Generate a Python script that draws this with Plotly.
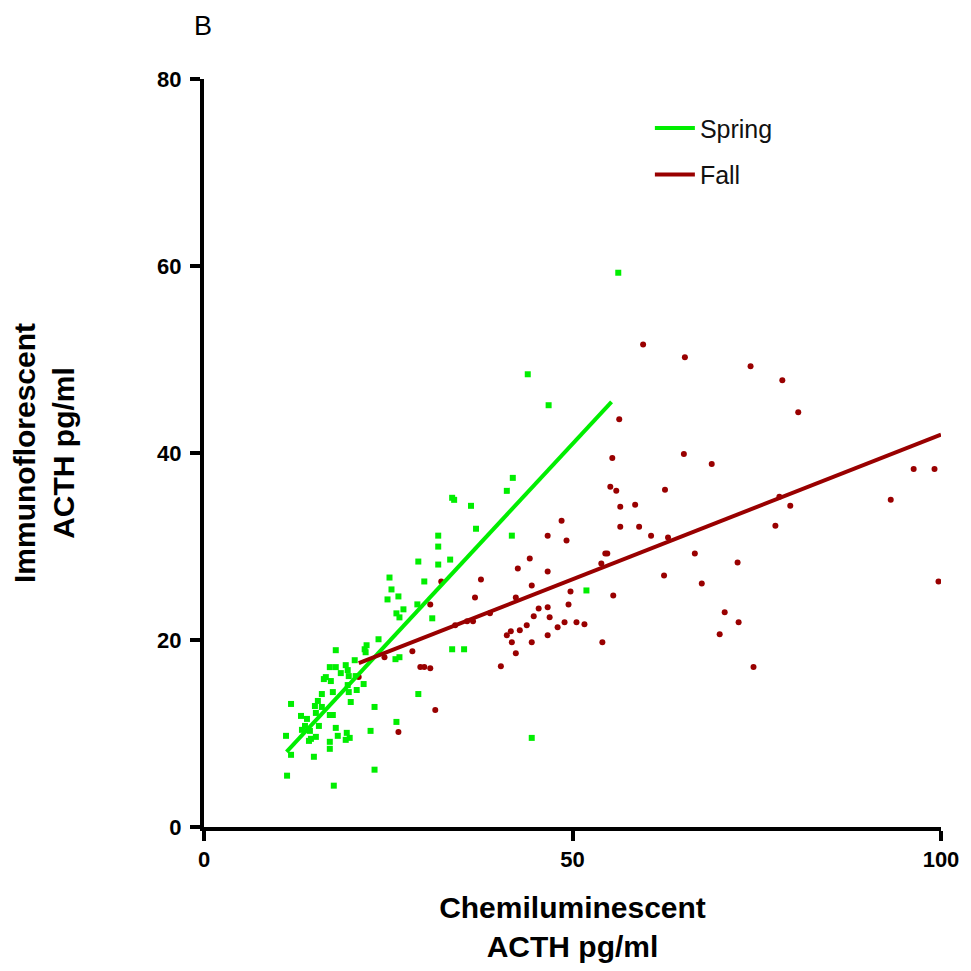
import plotly.graph_objects as go

# ---- data ----
spring_x = [11.13, 11.27, 11.81, 11.81, 13.16, 13.70, 13.29, 13.97, 14.24, 14.37,
            14.51, 14.91, 15.05, 15.18, 15.18, 15.45, 15.59, 15.99, 15.99, 16.26,
            16.53, 17.07, 17.07, 17.07, 17.07, 17.21, 17.48, 17.48, 17.61, 17.88,
            17.88, 17.88, 18.15, 18.56, 19.23, 19.23, 19.37, 19.50, 19.50, 19.64,
            19.64, 19.77, 19.91, 20.45, 20.58, 20.72, 21.66, 21.80, 21.93, 22.06,
            22.60, 23.14, 23.14, 23.68, 24.90, 25.17, 25.44, 25.98, 26.38, 26.52,
            26.11, 26.52, 26.11, 27.06, 28.95, 29.08, 29.08, 29.89, 30.97, 31.78,
            31.78, 31.78, 33.40, 33.67, 33.94, 33.67, 35.29, 36.23, 36.91, 41.09,
            41.77, 41.90, 43.93, 44.47, 46.76, 51.89, 56.21]
spring_y = [9.75, 5.49, 13.16, 7.72, 11.88, 10.81, 10.39, 11.56, 9.21, 10.28,
            9.43, 7.51, 12.94, 12.20, 9.64, 13.48, 10.81, 12.84, 14.22, 15.82,
            16.03, 17.10, 11.98, 9.11, 8.36, 15.61, 14.43, 11.98, 4.42, 18.91,
            17.10, 10.60, 9.75, 16.46, 17.31, 9.32, 10.07, 16.78, 15.18, 16.14,
            14.43, 9.53, 13.37, 17.84, 16.14, 14.65, 15.29, 19.01, 18.69, 19.44,
            10.28, 12.84, 6.13, 20.08, 24.34, 26.68, 25.41, 17.95, 24.66, 18.16,
            22.85, 22.42, 11.24, 23.28, 23.81, 28.39, 14.22, 26.26, 22.32, 31.16,
            29.99, 28.07, 28.60, 35.21, 34.99, 19.01, 19.01, 34.35, 31.90, 35.95,
            31.16, 37.34, 48.42, 9.53, 45.11, 25.30, 59.28]

fall_x = [20.99, 24.49, 26.38, 28.27, 29.35, 29.89, 30.70, 31.38, 32.19, 30.70,
          34.08, 35.70, 36.50, 36.77, 37.58, 38.80, 40.28, 41.09, 41.63, 41.77,
          42.31, 42.31, 42.58, 42.85, 43.79, 44.20, 44.47, 44.47, 44.74, 45.41,
          46.63, 46.63, 46.63, 46.63, 46.90, 47.98, 48.52, 48.92, 49.19, 49.46,
          49.73, 50.54, 51.62, 53.91, 54.05, 54.45, 54.72, 55.13, 55.40, 55.53,
          55.94, 56.34, 56.48, 56.48, 58.50, 59.04, 59.58, 60.66, 62.42, 62.55,
          62.96, 65.11, 65.25, 66.60, 67.54, 68.89, 69.97, 70.65, 72.40, 72.54,
          74.16, 74.56, 77.53, 78.07, 78.47, 79.55, 80.63, 93.18, 96.29, 99.12,
          99.66]
fall_y = [16.03, 18.16, 10.17, 18.80, 17.10, 17.10, 16.99, 12.52, 26.26, 23.81,
          21.57, 22.00, 22.00, 24.55, 26.47, 22.85, 17.20, 20.51, 20.93, 19.76,
          24.55, 18.59, 27.64, 21.04, 21.57, 28.71, 25.83, 19.76, 22.53, 23.38,
          31.16, 27.32, 23.49, 20.51, 22.42, 21.36, 32.76, 21.89, 30.63, 23.81,
          25.19, 21.89, 21.68, 28.18, 19.76, 29.24, 29.24, 36.38, 39.47, 24.77,
          35.95, 43.62, 34.25, 32.12, 34.46, 32.12, 51.61, 31.16, 26.90, 36.06,
          30.95, 39.89, 50.23, 29.24, 26.05, 38.83, 20.61, 22.96, 28.28, 21.89,
          49.27, 17.10, 32.22, 35.31, 47.78, 34.35, 44.37, 34.99, 38.30, 38.30,
          26.26]

# linear fits (slope, intercept) and the x span each fit line covers
spring_fit = (0.8486, -1.46)
spring_fit_range = [11.2, 55.3]
fall_fit = (0.3093, 11.03)
fall_fit_range = [21.0, 100.0]

x_ticks = [0, 50, 100]
y_ticks = [0, 20, 40, 60, 80]

GREEN = "#00ee00"
RED = "#990000"
FONT = "Arial, Liberation Sans, sans-serif"

def fit_line(fit, xr):
    m, b = fit
    return xr, [m * v + b for v in xr]

fig = go.Figure()
fig.add_trace(go.Scatter(x=spring_x, y=spring_y, mode="markers",
                         marker=dict(symbol="square", size=6, color=GREEN),
                         showlegend=False, legendgroup="spring", hoverinfo="x+y"))
fig.add_trace(go.Scatter(x=fall_x, y=fall_y, mode="markers",
                         marker=dict(symbol="circle", size=6, color=RED),
                         showlegend=False, legendgroup="fall", hoverinfo="x+y"))
sx, sy = fit_line(spring_fit, spring_fit_range)
fig.add_trace(go.Scatter(x=sx, y=sy, mode="lines", name="Spring",
                         line=dict(color=GREEN, width=4), legendgroup="spring"))
fx, fy = fit_line(fall_fit, fall_fit_range)
fig.add_trace(go.Scatter(x=fx, y=fy, mode="lines", name="Fall",
                         line=dict(color=RED, width=4), legendgroup="fall"))

axis_common = dict(showline=True, linewidth=4, linecolor="black", ticks="outside",
                   ticklen=10, tickwidth=4, tickcolor="black", showgrid=False,
                   zeroline=False, tickfont=dict(family=FONT, size=22, color="black", weight="bold"))

# page body has an 8px default margin, so the figure is 963px and sits at (8, 8)
fig.update_layout(
    width=963, height=963,
    margin=dict(l=192, r=30, t=71, b=142),
    plot_bgcolor="white", paper_bgcolor="white",
    xaxis=dict(range=[0, 100], tickvals=x_ticks, ticklabelstandoff=0,
               title=dict(text="Chemiluminescent<br>ACTH pg/ml", standoff=27,
                          font=dict(family=FONT, size=30, color="black", weight="bold")),
               **axis_common),
    yaxis=dict(range=[0, 80], tickvals=y_ticks, ticklabelstandoff=4,
               title=dict(text="Immunoflorescent<br>ACTH pg/ml", standoff=77,
                          font=dict(family=FONT, size=30, color="black", weight="bold")),
               **axis_common),
    legend=dict(x=0.605, y=0.965, xanchor="left", yanchor="top",
                font=dict(family=FONT, size=25, color="#111111"),
                bgcolor="rgba(0,0,0,0)", tracegroupgap=11, itemwidth=40),
    annotations=[dict(text="B", xref="paper", yref="paper", x=-0.016, y=1.093,
                      xanchor="left", yanchor="top", showarrow=False,
                      font=dict(family=FONT, size=27, color="black"))],
)

fig.write_html("out.html")
